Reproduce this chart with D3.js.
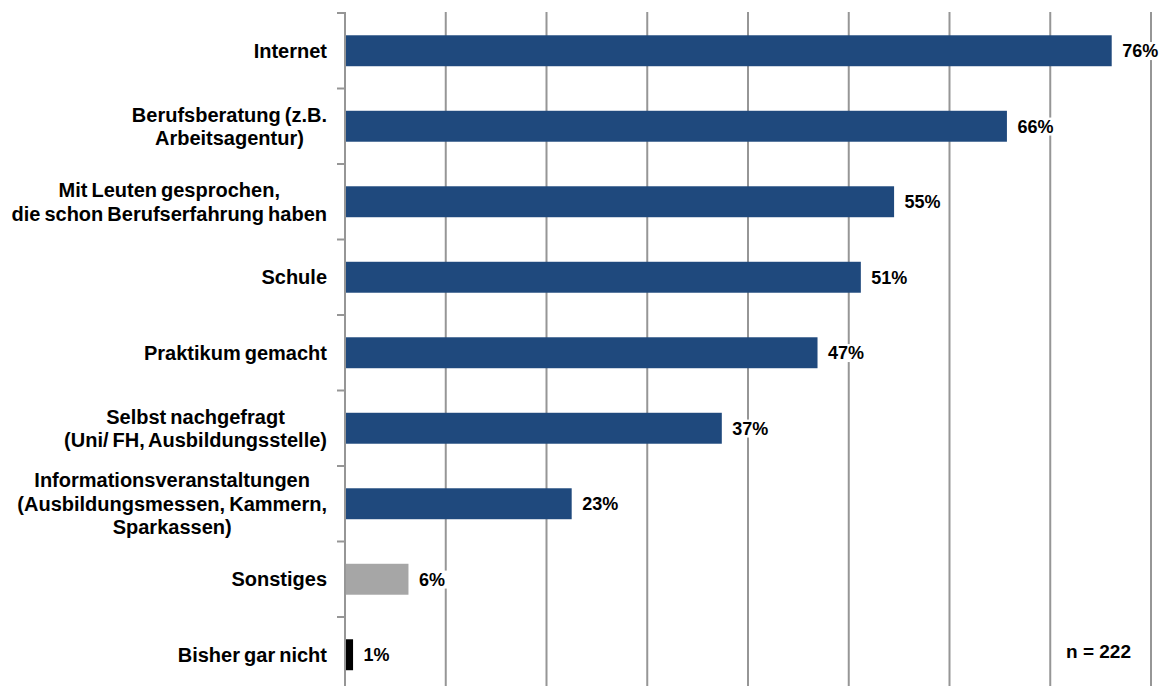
<!DOCTYPE html>
<html>
<head>
<meta charset="utf-8">
<script src="https://cdn.jsdelivr.net/npm/d3@7"></script>
<style>
  body { margin: 0; background: #fff; }
  text { font-family: "Liberation Sans", Arial, sans-serif; font-weight: bold; fill: #000; }
</style>
</head>
<body>
<div id="chart"></div>
<script>
// categories, top to bottom (lines of each label)
const categories = [
  ["Internet"],
  ["Berufsberatung (z.B.", "Arbeitsagentur)"],
  ["Mit Leuten gesprochen,", "die schon Berufserfahrung haben"],
  ["Schule"],
  ["Praktikum gemacht"],
  ["Selbst nachgefragt", "(Uni/ FH, Ausbildungsstelle)"],
  ["Informationsveranstaltungen", "(Ausbildungsmessen, Kammern,", "Sparkassen)"],
  ["Sonstiges"],
  ["Bisher gar nicht"]
];
const values = [76.1, 65.7, 54.5, 51.2, 46.9, 37.4, 22.5, 6.3, 0.8];
const valueLabels = ["76%", "66%", "55%", "51%", "47%", "37%", "23%", "6%", "1%"];
const barColors = ["#1f497d", "#1f497d", "#1f497d", "#1f497d", "#1f497d", "#1f497d", "#1f497d", "#a6a6a6", "#000000"];
const gridTicks = [10, 20, 30, 40, 50, 60, 70, 80];
const note = "n = 222";

const width = 1160, height = 686;
const ids = categories.map((c, i) => "c" + i);

const svg = d3.select("#chart").append("svg")
    .attr("width", width)
    .attr("height", height);

const x = d3.scaleLinear().domain([0, 80]).range([345, 1151]);
const y = d3.scaleBand().domain(ids).range([13, 692.5])
    .paddingInner(0.59).paddingOuter(0.295);

// vertical gridlines
svg.append("g").selectAll("line")
  .data(gridTicks)
  .enter().append("line")
    .attr("x1", d => x(d)).attr("x2", d => x(d))
    .attr("y1", 12).attr("y2", height)
    .attr("stroke", "#969696")
    .attr("stroke-width", 2);

// bars
svg.append("g").selectAll("rect")
  .data(values)
  .enter().append("rect")
    .attr("x", x(0))
    .attr("y", (d, i) => y(ids[i]))
    .attr("width", d => x(d) - x(0))
    .attr("height", y.bandwidth())
    .attr("fill", (d, i) => barColors[i]);

// value labels with white box behind
const vl = svg.append("g").selectAll("g")
  .data(values)
  .enter().append("g");
vl.append("rect")
    .attr("fill", "#fff");
vl.append("text")
    .attr("x", d => x(d) + 10.5)
    .attr("y", (d, i) => y(ids[i]) + y.bandwidth() / 2)
    .attr("dy", "0.35em")
    .style("font-size", "18px")
    .text((d, i) => valueLabels[i]);
vl.each(function() {
  const g = d3.select(this);
  const b = g.select("text").node().getBBox();
  g.select("rect")
    .attr("x", b.x - 4).attr("y", b.y + 1)
    .attr("width", b.width + 8).attr("height", b.height - 2);
});

// left axis with ticks at category boundaries
const axis = svg.append("g").attr("transform", `translate(${x(0)},0)`)
    .call(d3.axisLeft(y).tickValues([]).tickSizeOuter(0));
axis.select(".domain").remove();
axis.append("line")
    .attr("x1", 0).attr("x2", 0)
    .attr("y1", 12).attr("y2", height)
    .attr("stroke", "#969696").attr("stroke-width", 2);
const step = y.step();
axis.selectAll(".bound")
  .data(d3.range(0, ids.length))
  .enter().append("line")
    .attr("class", "bound")
    .attr("x1", -8).attr("x2", 0)
    .attr("y1", d => y.range()[0] + d * step)
    .attr("y2", d => y.range()[0] + d * step)
    .attr("stroke", "#969696").attr("stroke-width", 2);

// category labels: block right-aligned, lines centered
const lineH = 23.5;
const labelRight = 327;
categories.forEach((lines, i) => {
  const g = svg.append("g");
  const cy = y(ids[i]) + y.bandwidth() / 2;
  const ts = lines.map((l, j) => g.append("text")
      .attr("y", cy + (j - (lines.length - 1) / 2) * lineH)
      .attr("dy", "0.35em")
      .attr("text-anchor", "middle")
      .style("font-size", "20px")
      .style("word-spacing", "-1.5px")
      .text(l));
  const maxW = d3.max(ts, t => t.node().getComputedTextLength());
  ts.forEach(t => t.attr("x", labelRight - maxW / 2));
});

svg.append("text")
    .attr("x", 1066)
    .attr("y", 651)
    .attr("dy", "0.35em")
    .style("font-size", "19px")
    .text(note);
</script>
</body>
</html>
